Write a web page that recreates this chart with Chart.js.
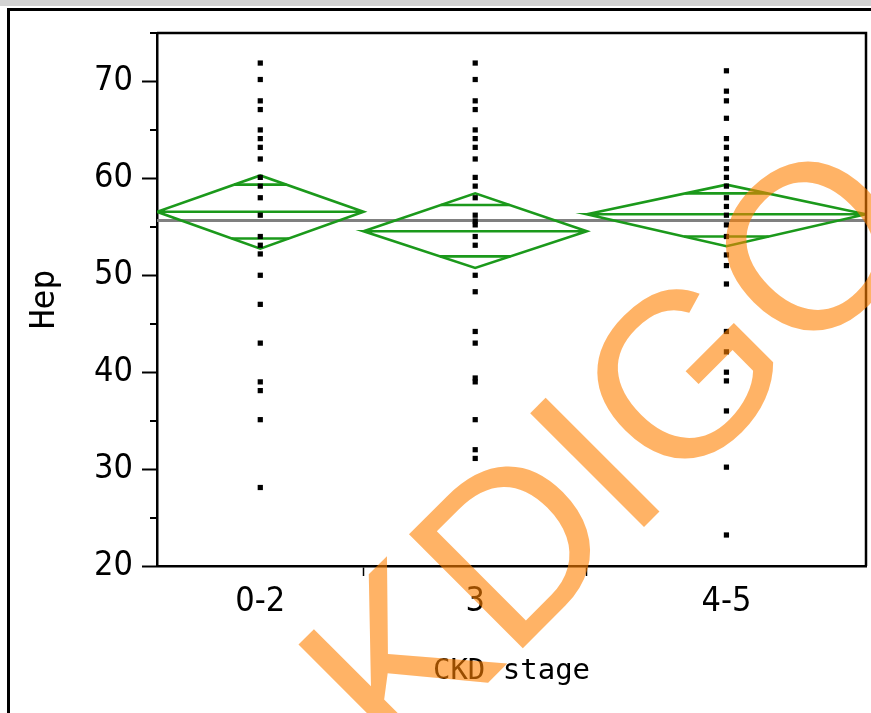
<!DOCTYPE html>
<html>
<head>
<meta charset="utf-8">
<script src="https://cdn.jsdelivr.net/npm/chart.js@4.4.1/dist/chart.umd.min.js"></script>
<style>
  html, body { margin: 0; padding: 0; background: #fff; }
  body { width: 871px; height: 713px; position: relative; overflow: hidden; }
  #topbar { position: absolute; left: 0; top: 0; width: 871px; height: 6px; background: #d3d3d3; }
  #frame { position: absolute; left: 7px; top: 8px; width: 880px; height: 720px;
           border-left: 3px solid #000; border-top: 3px solid #000; }
  #wrap { position: absolute; left: 0; top: 0; width: 871px; height: 713px; }
</style>
</head>
<body>
<div id="topbar"></div>
<div id="frame"></div>
<div id="wrap"><canvas id="myChart"></canvas></div>
<script>
// groups and their sizes (column widths are proportional to n)
var groups = ['0-2', '3', '4-5'];
var groupN = [37, 40, 50];

// Hep values per CKD stage
var hep02 = [71.9, 70.2, 68.0, 67.1, 65.0, 64.1, 63.2, 62.0, 60.1, 59.2, 58.0, 56.2, 54.0, 53.1, 52.2, 50.0,
             47.0, 43.0, 39.0, 38.1, 35.1, 28.1];
var hep3 = [71.9, 70.2, 68.0, 67.1, 65.0, 64.1, 63.2, 62.0, 60.1, 59.2, 58.0, 56.2, 55.6, 55.2, 54.0, 53.1, 50.0,
            48.3, 44.2, 43.0, 39.4, 39.0, 35.1, 32.0, 31.1];
var hep45 = [71.1, 69.0, 68.0, 66.2, 64.1, 63.2, 62.0, 61.0, 60.1, 59.2, 58.0, 57.1, 56.2, 55.2, 54.0, 52.1, 51.0,
             49.1, 44.2, 42.1, 40.0, 39.1, 36.0, 30.2, 23.2];

// means diamonds
var groupMean = [56.55, 54.55, 56.3];
var ciHigh = [60.3, 58.45, 59.35];
var ciLow = [52.75, 50.75, 53.0];
var overlapHigh = [59.35, 57.25, 58.45];
var overlapLow = [53.8, 51.95, 54.0];
var grandMean = 55.65;

var yTicks = [20, 30, 40, 50, 60, 70];

var GREEN = '#1b991b';

var bounds = [0];
for (var i = 0; i < groupN.length; i++) bounds.push(bounds[i] + groupN[i]);
var total = bounds[bounds.length - 1];
var centers = groups.map(function (g, i) { return (bounds[i] + bounds[i + 1]) / 2; });

// tick list on x: boundaries and centers interleaved
var xTickValues = [0];
var xTickLabels = [''];
for (var i = 0; i < groups.length; i++) {
    xTickValues.push(centers[i]); xTickLabels.push(groups[i]);
    xTickValues.push(bounds[i + 1]); xTickLabels.push('');
}

var allHep = [hep02, hep3, hep45];
var datasets = [];

allHep.forEach(function (vals, g) {
    datasets.push({
        type: 'scatter',
        data: vals.map(function (v) { return { x: centers[g], y: v }; }),
        pointStyle: 'rect',
        pointRadius: 3.7,
        borderWidth: 0,
        backgroundColor: '#000'
    });
});

// diamonds + mean line, one polyline per group
groups.forEach(function (g, i) {
    var l = bounds[i], r = bounds[i + 1], c = centers[i];
    datasets.push({
        type: 'scatter',
        showLine: true,
        data: [{ x: l, y: groupMean[i] }, { x: c, y: ciHigh[i] }, { x: r, y: groupMean[i] },
               { x: c, y: ciLow[i] }, { x: l, y: groupMean[i] }, { x: r, y: groupMean[i] }],
        borderColor: GREEN,
        borderWidth: 2.6,
        pointRadius: 0,
        tension: 0
    });
    var hw = (r - l) / 2;
    var fHi = (ciHigh[i] - overlapHigh[i]) / (ciHigh[i] - groupMean[i]) * hw;
    var fLo = (overlapLow[i] - ciLow[i]) / (groupMean[i] - ciLow[i]) * hw;
    datasets.push({
        type: 'scatter',
        showLine: true,
        spanGaps: false,
        data: [{ x: c - fHi, y: overlapHigh[i] }, { x: c + fHi, y: overlapHigh[i] }, { x: c, y: null },
               { x: c - fLo, y: overlapLow[i] }, { x: c + fLo, y: overlapLow[i] }],
        borderColor: GREEN,
        borderWidth: 2.6,
        pointRadius: 0
    });
});

datasets.push({
    type: 'scatter',
    showLine: true,
    data: [{ x: 0, y: grandMean }, { x: total, y: grandMean }],
    borderColor: '#808080',
    borderWidth: 3,
    pointRadius: 0
});

var tickFont = { family: '"Liberation Sans Narrow", "DejaVu Sans Condensed", sans-serif', size: 34 };
var xTitleFont = { family: '"DejaVu Sans Mono", monospace', size: 29 };
var yTitleFont = { family: '"DejaVu Sans Mono", monospace', size: 33 };

var framePlugin = {
    id: 'frame',
    afterDraw: function (chart) {
        var ctx = chart.ctx, a = chart.chartArea, y = chart.scales.y;
        ctx.save();
        ctx.strokeStyle = '#000';
        ctx.lineWidth = 2.5;
        ctx.beginPath();
        ctx.moveTo(a.left, a.top);
        ctx.lineTo(a.right, a.top);
        ctx.lineTo(a.right, a.bottom);
        ctx.stroke();
        // minor ticks
        ctx.lineWidth = 2;
        for (var v = y.min + 5; v <= y.max; v += 10) {
            var py = Math.round(y.getPixelForValue(v));
            ctx.beginPath();
            ctx.moveTo(a.left - 7, py);
            ctx.lineTo(a.left, py);
            ctx.stroke();
        }
        // watermark
        ctx.translate(606, 446);
        ctx.rotate(-Math.PI / 4);
        ctx.font = '234px "Liberation Sans", Arial, sans-serif';
        ctx.textAlign = 'center';
        ctx.textBaseline = 'alphabetic';
        ctx.fillStyle = 'rgba(255,128,0,0.6)';
        ctx.fillText('KDIGO', 0, 84);
        ctx.restore();
    }
};

var chart = new Chart(document.getElementById('myChart').getContext('2d'), {
    data: { datasets: datasets },
    options: {
        responsive: true,
        maintainAspectRatio: false,
        animation: false,
        layout: { padding: { top: 33, right: 5, left: 0, bottom: 0 } },
        plugins: { legend: { display: false }, tooltip: { enabled: false } },
        scales: {
            x: {
                type: 'linear',
                min: 0,
                max: total,
                afterBuildTicks: function (scale) {
                    scale.ticks = xTickValues.map(function (v) { return { value: v }; });
                },
                afterFit: function (scale) {
                    scale.height = 147;
                    scale.paddingLeft = 0; scale.paddingRight = 0;
                },
                ticks: {
                    autoSkip: false,
                    maxRotation: 0,
                    padding: 6,
                    color: '#000',
                    font: tickFont,
                    callback: function (v, i) { return xTickLabels[i]; }
                },
                grid: {
                    drawOnChartArea: false,
                    tickLength: 10,
                    tickWidth: 1.5,
                    tickColor: function (c) { return xTickLabels[c.index] === '' && c.index > 0 && c.index < xTickLabels.length - 1 ? '#000' : 'rgba(0,0,0,0)'; }
                },
                border: { color: '#000', width: 2.5 },
                title: { display: true, text: 'CKD stage', color: '#000', font: xTitleFont, padding: { top: 0, bottom: 24 } }
            },
            y: {
                type: 'linear',
                min: 20,
                max: 75,
                afterFit: function (scale) {
                    scale.width = 157;
                    scale.paddingTop = 0; scale.paddingBottom = 0;
                },
                ticks: {
                    stepSize: 5,
                    padding: 9,
                    color: '#000',
                    font: tickFont,
                    callback: function (v) { return yTicks.indexOf(v) >= 0 ? String(v) : ''; }
                },
                grid: {
                    drawOnChartArea: false,
                    tickLength: 15,
                    tickWidth: 2,
                    tickColor: function (c) { return yTicks.indexOf(c.tick.value) >= 0 ? '#000' : 'rgba(0,0,0,0)'; }
                },
                border: { color: '#000', width: 2.5 },
                title: { display: true, text: 'Hep', color: '#000', font: yTitleFont, padding: { top: 26, bottom: 0 } }
            }
        }
    },
    plugins: [framePlugin]
});
</script>
</body>
</html>
